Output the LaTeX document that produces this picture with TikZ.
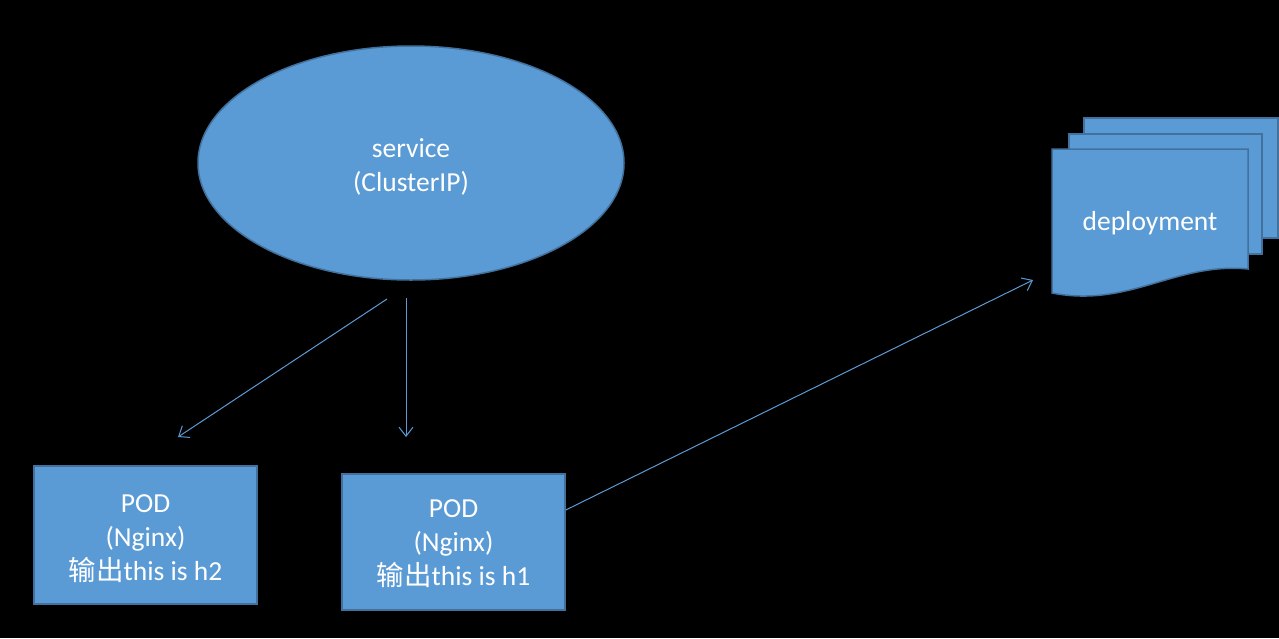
\documentclass[tikz,border=0pt]{standalone}
\usepackage{fontspec}
\setmainfont{Carlito}
\newfontfamily\cjk{Noto Sans CJK SC}
\usetikzlibrary{shapes.geometric,arrows.meta}
\definecolor{boxfill}{HTML}{5B9BD5}
\definecolor{boxline}{HTML}{41719C}
\definecolor{arrowc}{HTML}{5B9BD5}
\begin{document}
\begin{tikzpicture}[x=1pt,y=-1pt,
  shapebox/.style={fill=boxfill,draw=boxline,line width=1.5pt},
  lbl/.style={text=white,align=center,font=\fontsize{27.5}{34}\selectfont},
  podbox/.style={shapebox,rectangle,minimum width=223pt,minimum height=138pt,inner sep=0pt},
  conn/.style={draw=arrowc,line width=1pt,-{Straight Barb[length=9pt,width=14pt]}}]
\fill[black] (0,0) rectangle (1279,638);
\useasboundingbox (0,0) rectangle (1279,638);
% service
\node[shapebox,ellipse,minimum width=426pt,minimum height=234pt,inner sep=0pt] (svc) at (411,163) {};
\node[lbl] (svctext) at (411,167) {service\\(ClusterIP)};
% pods
\node[podbox] (pod2) at (145.5,535) {};
\node[lbl] (pod2text) at (145.5,539) {POD\\(Nginx)\\{\cjk 输出}this is h2};
\node[podbox,minimum height=136pt] (pod1) at (453.5,542) {};
\node[lbl] (pod1text) at (453.5,544) {POD\\(Nginx)\\{\cjk 输出}this is h1};
% deployment stack
\draw[shapebox] (1084,118) rectangle (1278,238);
\draw[shapebox] (1069,134) rectangle (1262,254);
\draw[shapebox] (1052,149) -- (1248,149) -- (1248,269)
  .. controls (1175,262) and (1130,308) .. (1052,293) -- cycle;
\node[lbl] (dep) at (1150,223) {deployment};
% connectors
\coordinate (s1) at (387,299);
\coordinate (e1) at (178,437);
\coordinate (s2) at (406,298);
\coordinate (e2) at (406,437);
\coordinate (e3) at (1033,280);
\draw[conn] (s1) -- (e1);
\draw[conn] (s2) -- (e2);
\draw[conn] (pod1.east |- 0,510) -- (e3);
\end{tikzpicture}
\end{document}
